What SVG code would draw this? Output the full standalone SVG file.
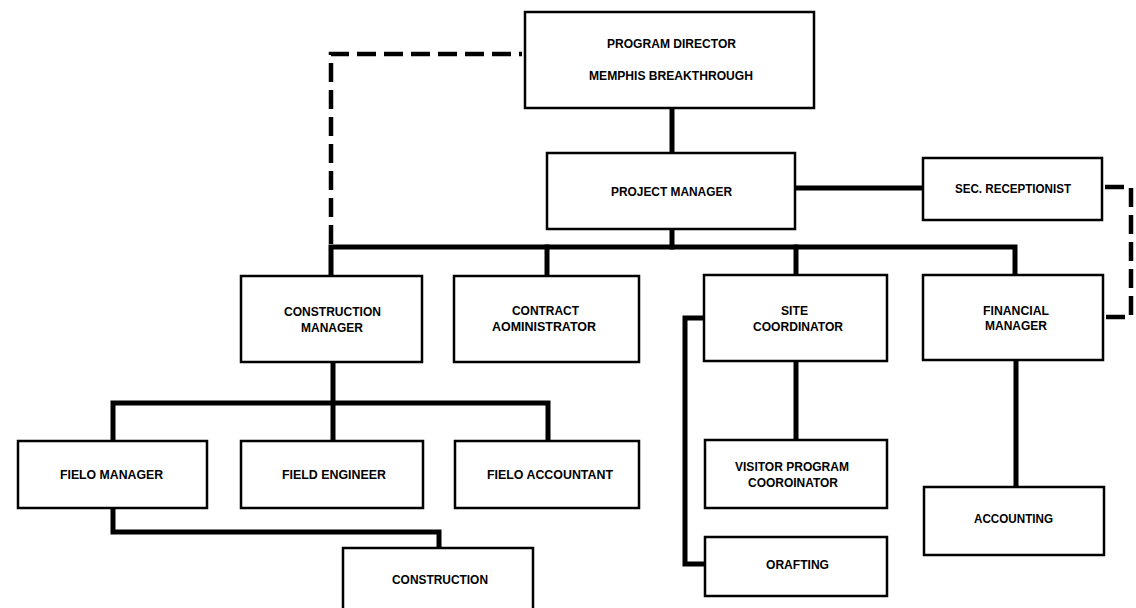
<svg xmlns="http://www.w3.org/2000/svg" width="1136" height="608" viewBox="0 0 1136 608">
<style>
.box{fill:#fff;stroke:#000;stroke-width:2.5}
.ln{fill:none;stroke:#000;stroke-width:5;stroke-linejoin:miter;stroke-linecap:square}
.dash{fill:none;stroke:#000;stroke-width:4.5;stroke-dasharray:19 8}
text{font-family:"Liberation Sans",Arial,sans-serif;font-weight:bold;font-size:13.5px;fill:#000;text-anchor:middle}
</style>
<rect width="1136" height="608" fill="#fff"/>
<g id="connectors">
<path class="dash" d="M331,244 V54 H522"/>
<path class="dash" d="M1105,187 H1131 V317 H1105"/>
<path class="ln" d="M672,108 V153"/>
<path class="ln" d="M795,188 H923"/>
<path class="ln" d="M672,229 V247"/>
<path class="ln" d="M331,276 V247 H1015 V275"/>
<path class="ln" d="M547,247 V276"/>
<path class="ln" d="M796,247 V275"/>
<path class="ln" d="M333,362 V441"/>
<path class="ln" d="M113,441 V403 H548 V441"/>
<path class="ln" d="M113,508 V532 H439 V548"/>
<path class="ln" d="M704,318 H685 V564 H705"/>
<path class="ln" d="M796,361 V440"/>
<path class="ln" d="M1016,360 V487"/>
</g>
<g id="program-director">
<rect class="box" x="525" y="12" width="289" height="96"/>
<text x="671.5" y="48" textLength="129" lengthAdjust="spacingAndGlyphs">PROGRAM DIRECTOR</text>
<text x="671" y="80" textLength="164" lengthAdjust="spacingAndGlyphs">MEMPHIS BREAKTHROUGH</text>
</g>
<g id="project-manager">
<rect class="box" x="547" y="153" width="248" height="76"/>
<text x="671.5" y="196" textLength="121" lengthAdjust="spacingAndGlyphs">PROJECT MANAGER</text>
</g>
<g id="sec-receptionist">
<rect class="box" x="923" y="158" width="179" height="62"/>
<text x="1013" y="193" textLength="116" lengthAdjust="spacingAndGlyphs">SEC. RECEPTIONIST</text>
</g>
<g id="construction-manager">
<rect class="box" x="241" y="276" width="181" height="86"/>
<text x="332.5" y="316" textLength="97" lengthAdjust="spacingAndGlyphs">CONSTRUCTION</text>
<text x="332" y="332" textLength="62" lengthAdjust="spacingAndGlyphs">MANAGER</text>
</g>
<g id="contract-administrator">
<rect class="box" x="454" y="276" width="185" height="86"/>
<text x="545.5" y="315" textLength="67" lengthAdjust="spacingAndGlyphs">CONTRACT</text>
<text x="544" y="331" textLength="104" lengthAdjust="spacingAndGlyphs">AOMINISTRATOR</text>
</g>
<g id="site-coordinator">
<rect class="box" x="704" y="275" width="183" height="86"/>
<text x="794.5" y="315" textLength="27" lengthAdjust="spacingAndGlyphs">SITE</text>
<text x="798" y="331" textLength="90" lengthAdjust="spacingAndGlyphs">COORDINATOR</text>
</g>
<g id="financial-manager">
<rect class="box" x="923" y="275" width="180" height="85"/>
<text x="1016" y="315" textLength="66" lengthAdjust="spacingAndGlyphs">FINANCIAL</text>
<text x="1016" y="330" textLength="62" lengthAdjust="spacingAndGlyphs">MANAGER</text>
</g>
<g id="field-manager">
<rect class="box" x="18" y="441" width="189" height="67"/>
<text x="111.5" y="479" textLength="103" lengthAdjust="spacingAndGlyphs">FIELO MANAGER</text>
</g>
<g id="field-engineer">
<rect class="box" x="241" y="441" width="182" height="67"/>
<text x="334" y="479" textLength="104" lengthAdjust="spacingAndGlyphs">FIELD ENGINEER</text>
</g>
<g id="field-accountant">
<rect class="box" x="455" y="441" width="184" height="67"/>
<text x="550" y="479" textLength="126" lengthAdjust="spacingAndGlyphs">FIELO ACCOUNTANT</text>
</g>
<g id="construction">
<rect class="box" x="343" y="548" width="190" height="72"/>
<text x="440" y="584" textLength="96" lengthAdjust="spacingAndGlyphs">CONSTRUCTION</text>
</g>
<g id="visitor-program-coordinator">
<rect class="box" x="705" y="440" width="182" height="68"/>
<text x="792" y="471" textLength="114" lengthAdjust="spacingAndGlyphs">VISITOR PROGRAM</text>
<text x="793" y="487" textLength="90" lengthAdjust="spacingAndGlyphs">COOROINATOR</text>
</g>
<g id="drafting">
<rect class="box" x="705" y="537" width="182" height="59"/>
<text x="797.5" y="569" textLength="63" lengthAdjust="spacingAndGlyphs">ORAFTING</text>
</g>
<g id="accounting">
<rect class="box" x="924" y="487" width="180" height="68"/>
<text x="1013.5" y="523" textLength="79" lengthAdjust="spacingAndGlyphs">ACCOUNTING</text>
</g>
</svg>
